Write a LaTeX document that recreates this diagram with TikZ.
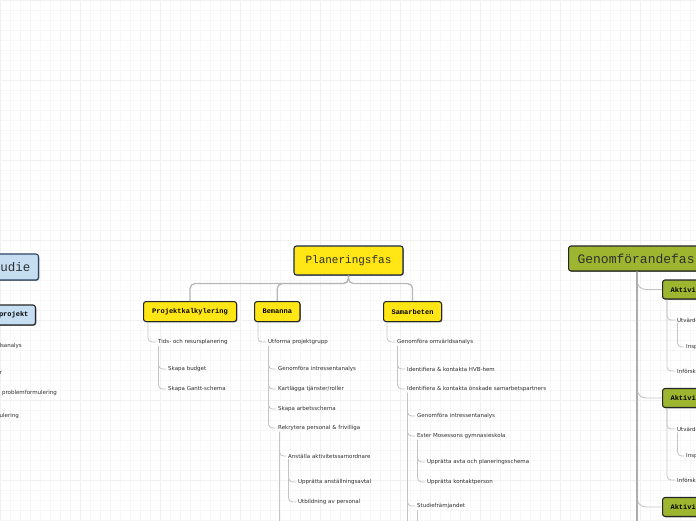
\documentclass[tikz,border=0pt]{standalone}
\usepackage{fontspec}
\setmainfont{DejaVu Sans}
\newfontfamily\mmono{Liberation Mono}
\usetikzlibrary{shadows}
\definecolor{myyellow}{HTML}{FFE614}
\definecolor{mygreen}{HTML}{9DB52F}
\definecolor{myblue}{HTML}{C6DEF2}
\definecolor{navy}{HTML}{1C2B48}
\definecolor{bluedark}{HTML}{2C4566}
\definecolor{linegray}{HTML}{C4C4C4}
\definecolor{txtgray}{HTML}{2E2E2E}
\definecolor{gridminor}{HTML}{F7F7F7}
\definecolor{gridmajor}{HTML}{F0F0F0}
\begin{document}
\begin{tikzpicture}[x=1pt,y=-1pt,
 lbl/.style={font=\fontsize{5.5}{6.5}\selectfont, text=txtgray, inner sep=1pt, anchor=west},
 box/.style={draw, rounded corners=2.5pt, line width=1.1pt,
   drop shadow={shadow xshift=0.8pt,shadow yshift=-0.8pt,fill=black!60,opacity=0.7}},
 ybox/.style={box, fill=myyellow, draw=black!85, text=black,
   font=\mmono\bfseries\fontsize{7}{8}\selectfont, minimum height=20pt, inner xsep=8pt, inner ysep=0pt},
 pbox/.style={box, fill=myyellow, draw=navy, text=txtgray,
   font=\mmono\fontsize{11}{12}\selectfont, minimum width=109pt, minimum height=29pt},
 gbox/.style={box, fill=mygreen, draw=black!85, text=txtgray,
   font=\mmono\fontsize{13}{14}\selectfont, minimum height=25pt, inner xsep=9pt, inner ysep=0pt},
 gsmall/.style={box, fill=mygreen, draw=black!85, text=black,
   font=\mmono\bfseries\fontsize{7}{8}\selectfont, minimum height=19pt, inner xsep=8pt, inner ysep=0pt},
 bbox/.style={box, fill=myblue, draw=bluedark, text=txtgray,
   font=\mmono\fontsize{12.5}{14}\selectfont, minimum height=26pt, inner xsep=8pt, inner ysep=0pt},
 bsmall/.style={box, fill=myblue, draw=black!85, text=black,
   font=\mmono\bfseries\fontsize{7}{8}\selectfont, minimum height=20pt, inner xsep=7pt, inner ysep=0pt},
 conn/.style={draw=linegray, line width=0.8pt, rounded corners=4pt, shorten >=1pt},
 spine/.style={draw=linegray, line width=1.6pt},
 topconn/.style={draw=black!28, line width=1.3pt, rounded corners=5pt},
 bigspine/.style={draw=black!32, line width=2.8pt},
 gbranch/.style={draw=linegray, line width=0.9pt, rounded corners=9pt}
]
\useasboundingbox (0,0) rectangle (696,520);
\clip (0,0) rectangle (696,520);
\fill[white] (0,0) rectangle (696,520);
\foreach \x in {0,10,...,690} \draw[gridminor, line width=0.5pt] (\x,0) -- (\x,520);
\foreach \y in {0,10,...,520} \draw[gridminor, line width=0.5pt] (0,\y) -- (696,\y);
\foreach \x in {0,80,...,640} \draw[gridmajor, line width=0.5pt] (\x,0) -- (\x,520);
\foreach \y in {0,80,...,480} \draw[gridmajor, line width=0.5pt] (0,\y) -- (696,\y);

% ---- left (cut off) ----
\node[bbox, anchor=east] (fs) at (39,267) {Förstudie};
\node[bsmall, anchor=east] (proj) at (36,315) {Förankra projekt};
\node[lbl, anchor=east] (l1) at (23,346) {Genomföra omvärldsanalys};
\node[lbl, anchor=east] (l2) at (3,373) {Kartlägga behov och målgrupper};
\node[lbl, anchor=east] (l3) at (58,393) {Formulera syfte, mål \& problemformulering};
\node[lbl, anchor=east] (l4) at (20,416) {Målformulering};

% ---- Planeringsfas ----
\node[pbox] (plan) at (348.5,260.5) {Planeringsfas};
\node[ybox, anchor=north west, minimum width=93pt] (pk) at (143,301) {Projektkalkylering};
\node[ybox, anchor=north west, minimum width=45pt] (bem) at (254,301) {Bemanna};
\node[ybox, anchor=north west, minimum width=58pt] (sam) at (383,301) {Samarbeten};

\node[lbl] (tids) at (157,342) {Tids- och resursplanering};
\node[lbl] (budget) at (167,369) {Skapa budget};
\node[lbl] (gantt) at (167,389) {Skapa Gantt-schema};

\node[lbl] (utf) at (267,342) {Utforma projektgrupp};
\node[lbl] (gi1) at (277,369) {Genomföra intressentanalys};
\node[lbl] (kart) at (277,389) {Kartlägga tjänster/roller};
\node[lbl] (arb) at (277,409) {Skapa arbetsschema};
\node[lbl] (rek) at (277,428) {Rekrytera personal \& frivilliga};
\node[lbl] (anst) at (287,456) {Anställa aktivitetssamordnare};
\node[lbl] (avtal) at (297,482) {Upprätta anställningsavtal};
\node[lbl] (utb) at (297,502) {Utbildning av personal};

\node[lbl] (omv) at (396,342) {Genomföra omvärldsanalys};
\node[lbl] (hvb) at (406,369) {Identifiera \& kontakta HVB-hem};
\node[lbl] (ons) at (406,389) {Identifiera \& kontakta önskade samarbetspartners};
\node[lbl] (gi2) at (416,416) {Genomföra intressentanalys};
\node[lbl] (ester) at (416,436) {Ester Mosessons gymnasieskola};
\node[lbl] (avta) at (426,462) {Upprätta avta och planeringsschema};
\node[lbl] (kontakt) at (426,482) {Upprätta kontaktperson};
\node[lbl] (studie) at (416,506) {Studiefrämjandet};

\draw[topconn] (plan.south) -- ++(0,8) -| (pk.north);
\draw[topconn] (plan.south) -- ++(0,8) -| (bem.north);
\draw[topconn] (plan.south) -- ++(0,8) -| (sam.north);

\draw[conn] ([xshift=5pt]pk.south west) |- (tids.west);
\draw[conn] ([xshift=1.5pt]tids.south west) |- (budget.west);
\draw[conn] ([xshift=1.5pt]tids.south west) |- (gantt.west);

\draw[conn] ([xshift=4pt]bem.south west) |- (utf.west);
\foreach \c in {gi1,kart,arb,rek} \draw[conn] ([xshift=1.5pt]utf.south west) |- (\c.west);
\coordinate (rektop) at ([xshift=2.5pt]rek.south west);
\draw[spine] (rektop) -- (rektop |- 0,525);
\draw[conn] (rektop) |- (anst.west);
\draw[conn] ([xshift=1.5pt]anst.south west) |- (avtal.west);
\draw[conn] ([xshift=1.5pt]anst.south west) |- (utb.west);

\draw[conn] ([xshift=4pt]sam.south west) |- (omv.west);
\draw[conn] ([xshift=1.5pt]omv.south west) |- (hvb.west);
\draw[conn] ([xshift=1.5pt]omv.south west) |- (ons.west);
\coordinate (onstop) at ([xshift=1.5pt]ons.south west);
\draw[spine] (onstop) -- (onstop |- 0,525);
\foreach \c in {gi2,ester,studie} \draw[conn] (onstop) |- (\c.west);
\draw[conn] ([xshift=1.5pt]ester.south west) |- (avta.west);
\draw[conn] ([xshift=1.5pt]ester.south west) |- (kontakt.west);
\coordinate (studtop) at ([xshift=1.5pt]studie.south west);
\draw[conn] (studtop) -- (studtop |- 0,525);

% ---- Genomförandefas ----
\node[gbox, anchor=west] (gen) at (568,258.5) {Genomförandefas};
\node[gsmall, anchor=west] (akt1) at (662,289.5) {Aktivitet 1};
\node[gsmall, anchor=west] (akt2) at (662,398) {Aktivitet 2};
\node[gsmall, anchor=west] (akt3) at (662,507) {Aktivitet 3};
\node[lbl] (utv1) at (676,320) {Utvärdera};
\node[lbl] (ins1) at (685,347) {Inspirera};
\node[lbl] (inf1) at (676,371) {Införskaffa};
\node[lbl] (utv2) at (676,429) {Utvärdera};
\node[lbl] (ins2) at (685,456) {Inspirera};
\node[lbl] (inf2) at (676,480) {Införskaffa};

\coordinate (gtop) at ([xshift=69pt]gen.south west);
\foreach \a in {akt1,akt2,akt3} \draw[gbranch] (gtop) |- (\a.west);
\draw[bigspine] (gtop) -- (gtop |- 0,525);
\foreach \i in {1,2} {
  \draw[conn] ([xshift=5pt]akt\i.south west) |- (utv\i.west);
  \draw[conn] ([xshift=5pt]akt\i.south west) |- (inf\i.west);
  \draw[conn] ([xshift=1.5pt]utv\i.south west) |- (ins\i.west);
}
\end{tikzpicture}
\end{document}
